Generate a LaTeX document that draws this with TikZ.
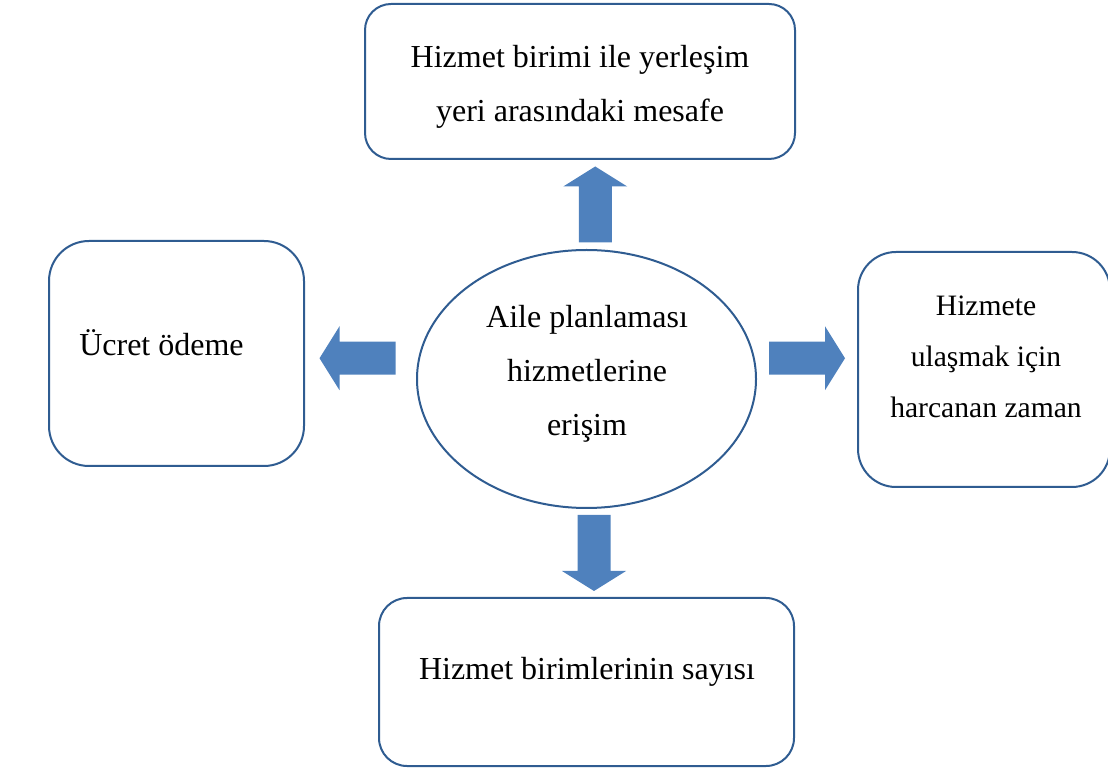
\documentclass[tikz,border=0pt]{standalone}
\usepackage{fontspec}
\setmainfont{Liberation Serif}
\usetikzlibrary{positioning, calc, shapes.geometric}
\definecolor{FrameBlue}{HTML}{2F5C91}
\definecolor{ArrowBlue}{HTML}{4F81BD}

\tikzset{
  blockarrow/.pic={
    \fill[ArrowBlue] (-38,-16.5) -- (18,-16.5) -- (18,-32) -- (38,0)
      -- (18,32) -- (18,16.5) -- (-38,16.5) -- cycle;
  }
}

\begin{document}
\begin{tikzpicture}[
  x=0.5pt, y=-0.5pt,
  factor/.style={
    draw=FrameBlue, line width=1pt, fill=white, inner sep=0pt
  },
  hub/.style={
    ellipse, draw=FrameBlue, line width=1pt, fill=white, inner sep=0pt,
    minimum width=169.5pt, minimum height=129pt
  },
  txt/.style={
    font=\fontsize{16}{27}\selectfont, align=center, inner sep=0pt
  }
]
  \useasboundingbox (0,0) rectangle (1108,769);
  \clip (0,0) rectangle (1108,769);

  % Boxes
  \node[factor, rounded corners=13pt, minimum width=215pt, minimum height=77.5pt] (dist) at (580,81.5) {};
  \node[factor, rounded corners=20pt, minimum width=127.5pt, minimum height=112.5pt] (pay) at (176.5,353.5) {};
  \node[factor, rounded corners=19pt, minimum width=126pt, minimum height=117.5pt] (time) at (984,369.5) {};
  \node[factor, rounded corners=14pt, minimum width=207.5pt, minimum height=84pt] (count) at (586.5,682) {};
  \node[hub] (hub) at (586.5,379) {};

  % Texts
  \node[txt] (distText) at (580,86.6) {Hizmet birimi ile yerleşim\\yeri arasındaki mesafe};
  \node[txt, anchor=base] (payText) at (161.5,356) {Ücret ödeme};
  \node[txt, font=\fontsize{14.8}{25.5}\selectfont] (timeText) at (986,357) {Hizmete\\ulaşmak için\\harcanan zaman};
  \node[txt, anchor=base] (countText) at (587,679) {Hizmet birimlerinin sayısı};
  \node[txt] (hubText) at (587,373.5) {Aile planlaması\\hizmetlerine\\erişim};

  % Block arrows
  \pic[rotate=90] at ($(hub.north)!.5!(dist.south)+(12,0)$) {blockarrow};
  \pic[rotate=-90] at ($(hub.south)!.5!(count.north)+(7.5,0)$) {blockarrow};
  \pic at ($(hub.east)!.5!(time.west)+(0,-16)$) {blockarrow};
  \pic[rotate=180] at ($(hub.west)!.5!(pay.east)+(-3,-8)$) {blockarrow};
\end{tikzpicture}
\end{document}
